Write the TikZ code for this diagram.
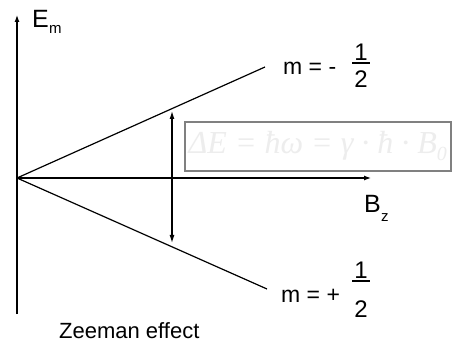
\documentclass[tikz,border=0pt]{standalone}
\usepackage{fontspec}
\setmainfont{Liberation Sans}
\newfontfamily\eqfont{Liberation Serif}
\usetikzlibrary{arrows.meta}
\begin{document}
\begin{tikzpicture}[x=1pt,y=-1pt,
  axis/.style={line width=1.2pt,-{Latex[length=7pt,width=5pt]}},
  ray/.style={line width=1.2pt},
  lbl/.style={inner sep=0pt,anchor=base west,font=\fontsize{23}{27}\selectfont},
  digit/.style={inner sep=0pt,anchor=base,font=\fontsize{24}{28}\selectfont},
  sub/.style={inner sep=0pt,anchor=base west,font=\fontsize{15}{18}\selectfont},
  formulabox/.style={draw=gray,line width=1.6pt,fill=white,text=gray!14,
    font=\eqfont\itshape\fontsize{32}{38}\selectfont}]
\useasboundingbox (0,0) rectangle (455,347);
% coordinates
\coordinate (O) at (17,178);
\coordinate (ytop) at (17,15);
\coordinate (ybot) at (17,314);
\coordinate (xend) at (371,178);
\coordinate (up) at (265,67);
\coordinate (down) at (267,289);
\coordinate (atop) at (172,111);
\coordinate (abot) at (172,243);
% axes
\draw[ray] (ybot) -- (O);
\draw[axis] (O) -- (ytop);
\draw[axis] (O) -- (xend);
% split lines
\draw[ray] (O) -- (up);
\draw[ray] (O) -- (down);
% splitting arrow
\draw[line width=1.2pt,{Latex[length=8pt,width=5pt]}-{Latex[length=8pt,width=5pt]}] (atop) -- (abot);
% formula box
\node[formulabox,minimum width=266pt,minimum height=49pt,anchor=north west,inner sep=0pt] (box) at (184,121)
  {ΔE = ħω = γ · ħ · B\raisebox{-0.22em}{\fontsize{20}{24}\selectfont 0}};
% axis labels
\node[lbl,font=\fontsize{25}{30}\selectfont] (E) at (32,28) {E};
\node[sub] (Em) at (49,34) {m};
\node[lbl,font=\fontsize{25}{30}\selectfont] (B) at (364,213) {B};
\node[sub] (Bz) at (381,222) {z};
% m labels
\node[lbl] (mu) at (283,75) {m = -};
\node[digit] (mu1) at (361,61) {1};
\node[digit] (mu2) at (361,88) {2};
\coordinate (bu1) at (352,63);
\coordinate (bu2) at (370,63);
\draw[line width=1.3pt] (bu1) -- (bu2);
\node[lbl] (md) at (281,302) {m = +};
\node[digit] (md1) at (361,279) {1};
\node[digit] (md2) at (361,317) {2};
\coordinate (bd1) at (352,281);
\coordinate (bd2) at (370,281);
\draw[line width=1.3pt] (bd1) -- (bd2);
% caption
\node[lbl,font=\fontsize{22}{26}\selectfont] (cap) at (59,338) {Zeeman effect};
\end{tikzpicture}
\end{document}
